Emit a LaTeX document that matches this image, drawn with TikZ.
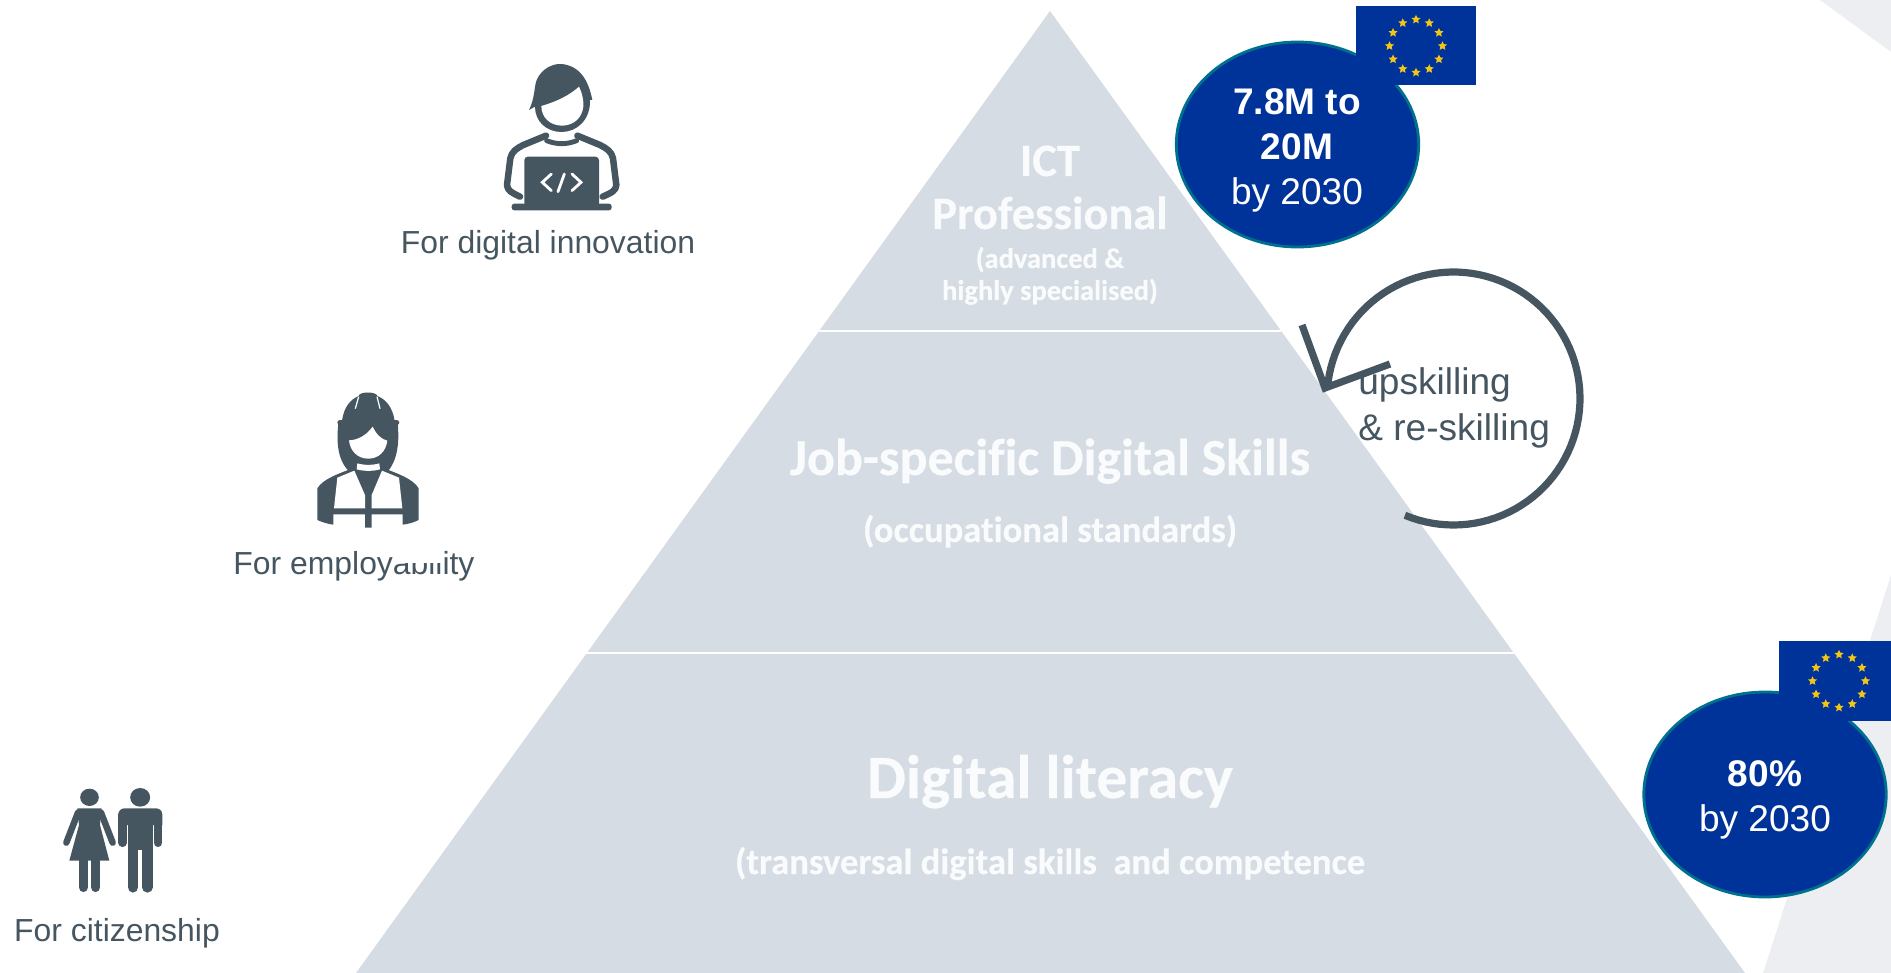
\documentclass[tikz,border=0pt]{standalone}
\usepackage{fontspec}
\setmainfont{Liberation Sans}
\newfontfamily\carl[Ligatures=NoCommon,BoldFeatures={FakeBold=0.4}]{Carlito}
\usetikzlibrary{shapes.geometric}
\definecolor{ink}{HTML}{465661}
\definecolor{pyr}{HTML}{D6DCE4}
\definecolor{pale}{HTML}{ECEEF1}
\definecolor{eu}{HTML}{003399}
\definecolor{eurim}{HTML}{00708F}
\definecolor{gold}{HTML}{F2C518}
\definecolor{soft}{HTML}{FAFBFC}
\newcommand{\fs}[1]{\fontsize{#1}{#1}\selectfont}
\tikzset{
  label/.style={anchor=base,text=ink,inner sep=0pt,font=\fs{18.15}},
  big/.style={anchor=base west,text=ink,inner sep=0pt,font=\fs{21.1}},
  circtext/.style={anchor=base,text=white,inner sep=0pt,font=\fs{21.1}},
  circbold/.style={anchor=base,text=white,inner sep=0pt,font=\fs{21.1}\bfseries},
  pyrtext/.style={anchor=base,text=soft,inner sep=0pt},
  target/.style={ellipse,fill=eu,draw=eurim,line width=1.6pt,minimum width=4.85cm,minimum height=4.1cm,inner sep=0pt},
  eustar/.style={star,star points=5,star point ratio=2.1,fill=gold,inner sep=0pt,minimum size=0.19cm},
  band/.style={draw=white,line width=1.6pt},
  ic/.style={fill=ink,draw=none},
  icw/.style={fill=white,draw=none},
  ol/.style={draw=ink,line width=3.7pt,line cap=round,line join=round},
  loopline/.style={draw=ink,line width=4.1pt,line cap=butt,line join=miter},
}
\begin{document}
\begin{tikzpicture}[x=0.02cm,y=-0.02cm]
\useasboundingbox (0,0) rectangle (1891,973);
% background shards
\fill[pale] (1820,0) -- (1891,0) -- (1891,52) -- cycle;
\fill[pale] (1891,575) -- (1891,973) -- (1763,973) -- cycle;
% pyramid
\fill[pyr] (1050,11) -- (1745,973) -- (356,973) -- cycle;
\coordinate (l1a) at (819,331); \coordinate (l1b) at (1281,331);
\coordinate (l2a) at (586,653); \coordinate (l2b) at (1514,653);
\draw[band] (l1a) -- (l1b);
\draw[band] (l2a) -- (l2b);
% pyramid texts
\node[pyrtext,font=\carl\bfseries\fs{26.4}] (t1) at (1050,176) {ICT};
\node[pyrtext,font=\carl\bfseries\fs{26.4}] (t2) at (1050,229) {Professional};
\node[pyrtext,font=\carl\bfseries\fs{16.2}] (t3) at (1050,268) {(advanced \&};
\node[pyrtext,font=\carl\bfseries\fs{16.2}] (t4) at (1050,300) {highly specialised)};
\node[pyrtext,font=\carl\bfseries\fs{29.6}] (t5) at (1050,475) {Job-specific Digital Skills};
\node[pyrtext,font=\carl\bfseries\fs{20.8}] (t6) at (1050,542) {(occupational standards)};
\node[pyrtext,font=\carl\bfseries\fs{35}] (t7) at (1050,798) {Digital literacy};
\node[pyrtext,font=\carl\bfseries\fs{20.8}] (t8) at (1050,874) {(transversal digital skills\ \ and competence};
% upskilling loop
\coordinate (tip) at (1325,388);
\coordinate (wa) at (1302,325);
\coordinate (wb) at (1390,364);
\draw[loopline] plot[domain=112.6:-175.5,samples=90] ({1453.5+126.5*cos(\x)},{398.5+126.5*sin(\x)});
\draw[loopline] (wa) -- (tip) -- (wb);
\node[big] (up1) at (1358,395) {upskilling};
\node[big] (up2) at (1358,440) {\& re-skilling};
% target top
\node[target] (c1) at (1297.5,144.5) {};
\fill[eu] (1356,6) rectangle (1476,85);
\foreach \a in {0,30,...,330} \node[eustar] (sa\a) at ({1416+26.5*cos(\a)},{46+26.5*sin(\a)}) {};
\node[circbold] (c1a) at (1297,115) {7.8M to};
\node[circbold] (c1b) at (1297,160) {20M};
\node[circtext] (c1c) at (1297,205) {by 2030};
% target bottom
\node[target] (c2) at (1765,794.5) {};
\fill[eu] (1779,641) rectangle (1891,721);
\foreach \a in {0,30,...,330} \node[eustar] (sb\a) at ({1839+26.5*cos(\a)},{681+26.5*sin(\a)}) {};
\node[circbold] (c2a) at (1765,786) {80\%};
\node[circtext] (c2b) at (1765,831) {by 2030};
% developer icon
\begin{scope}[shift={(380,40)},scale=1/3]
  \draw[ol] (420,470) .. controls (395,458) and (382,452) .. (381,435) -- (391,355) .. controls (395,335) and (410,325) .. (430,315) -- (498,287);
  \draw[ol] (668,470) .. controls (695,458) and (708,452) .. (709,435) -- (699,355) .. controls (695,335) and (680,325) .. (660,315) -- (592,287);
  \draw[ol,line width=2.8pt] (500,302) .. controls (530,314) and (560,314) .. (590,302);
  \fill[ic] (447,210) .. controls (465,175) and (462,140) .. (470,120) .. controls (485,85) and (520,70) .. (545,72) .. controls (600,78) and (625,120) .. (637,180) -- (630,180) .. controls (632,240) and (590,276) .. (545,276) .. controls (500,276) and (465,245) .. (465,200) -- cycle;
  \fill[icw] (484,198) .. controls (530,185) and (570,165) .. (597,140) .. controls (607,160) and (611,180) .. (610,200) .. controls (606,235) and (580,256) .. (547,257) .. controls (510,257) and (484,232) .. cycle;
  \fill[ic,rounded corners=2pt] (433,350) rectangle (657,500);
  \fill[ic,rounded corners=1.5pt] (395,491) rectangle (695,511);
  \draw[white,line width=1.6pt,line cap=round,line join=miter] (514,402) -- (487,427) -- (514,452);
  \draw[white,line width=1.6pt,line cap=round] (553,402) -- (534,455);
  \draw[white,line width=1.6pt,line cap=round,line join=miter] (576,402) -- (603,427) -- (576,452);
\end{scope}
\node[label] (lb1) at (548,254) {For digital innovation};
% worker icon
\node[label] (lb2) at (354,574) {For employability};
\fill[white] (395,545) rectangle (443,563);
\begin{scope}[shift={(220,380)},scale=1/3]
  \fill[ic] (405,262) .. controls (360,280) and (310,295) .. (292,325) -- (292,420) .. controls (310,428) and (325,432) .. (340,434) -- (340,403) -- (435,403) -- (435,443) -- (455,443) -- (455,403) -- (548,403) -- (548,434) .. controls (565,432) and (580,428) .. (596,420) -- (596,325) .. controls (578,295) and (530,280) .. (485,262) -- cycle;
  \fill[ic] (355,130) .. controls (350,180) and (350,235) .. (385,272) -- (505,272) .. controls (535,235) and (538,180) .. (533,130) -- cycle;
  \fill[ic] (366,122) .. controls (372,80) and (392,58) .. (416,48) .. controls (417,34) and (470,34) .. (472,48) .. controls (497,58) and (517,80) .. (524,122) -- cycle;
  \draw[ink,line width=3pt,line cap=round] (360,128) -- (530,128);
  \draw[white,line width=0.7pt] (416,50) -- (406,86);
  \draw[white,line width=0.7pt] (471,50) -- (480,86);
  \fill[icw] (387,181) .. controls (415,180) and (440,165) .. (458,140) .. controls (470,165) and (485,178) .. (502,182) .. controls (498,215) and (475,236) .. (445,236) .. controls (412,236) and (390,212) .. cycle;
  \fill[icw] (412,250) .. controls (430,256) and (460,256) .. (478,250) -- (480,268) .. controls (460,274) and (430,274) .. (410,268) -- cycle;
  \fill[icw] (352,293) -- (403,272) -- (435,345) -- (435,385) -- (342,385) -- cycle;
  \fill[icw] (537,293) -- (486,272) -- (455,345) -- (455,385) -- (547,385) -- cycle;
\end{scope}
% citizens icon
\begin{scope}[shift={(0,770)},scale=1/3]
  \fill[ic] (268.5,82) ellipse [x radius=28,y radius=26];
  \fill[ic] (420.5,82) ellipse [x radius=30,y radius=28];
  \draw[ink,line width=3.7pt,line cap=round] (234,128) -- (199,218);
  \draw[ink,line width=3.7pt,line cap=round] (303,128) -- (338,218);
  \fill[ic] (232,115) -- (305,115) -- (300,165) -- (328,272) -- (208,272) -- (237,165) -- cycle;
  \draw[ink,line width=5.4pt,line cap=round] (250,272) -- (250,352);
  \draw[ink,line width=5.4pt,line cap=round] (287,272) -- (287,352);
  \draw[ink,line width=5pt,line cap=round] (368,135) -- (368,218);
  \draw[ink,line width=5pt,line cap=round] (474,135) -- (474,218);
  \fill[ic,rounded corners=3.5pt] (355,165) -- (355,115) -- (487,115) -- (487,165);
  \fill[ic] (355,140) rectangle (487,165);
  \fill[ic] (384,125) rectangle (459,240);
  \draw[ink,line width=6pt,line cap=round] (399,230) -- (399,352);
  \draw[ink,line width=6pt,line cap=round] (442,230) -- (442,352);
\end{scope}
\node[label] (lb3) at (117,941) {For citizenship};
\end{tikzpicture}
\end{document}
